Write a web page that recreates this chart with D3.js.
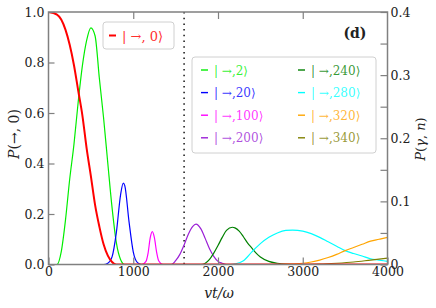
<!DOCTYPE html>
<html>
<head>
<meta charset="utf-8">
<script src="https://cdn.jsdelivr.net/npm/d3@7"></script>
<style>
  body { margin: 0; background: #fff; }
  text { font-family: "DejaVu Serif", serif; }
</style>
</head>
<body>
<div id="chart"></div>
<script>
// |->,0> on the left axis
var tRed = [0, 100, 150, 200, 250, 300, 350, 400, 450, 500, 550, 600, 650, 700, 750, 800, 4000];
var pRed = [1.0, 0.99, 0.97, 0.93, 0.87, 0.79, 0.69, 0.59, 0.46, 0.35, 0.235, 0.15, 0.08, 0.035, 0.01, 0, 0];

// the rest on the right axis
var t2 = [0, 100, 150, 200, 250, 300, 350, 400, 450, 500, 550, 600, 650, 700, 750, 800, 850, 900, 4000];
var p2 = [0, 0, 0.02, 0.07, 0.135, 0.19, 0.257, 0.315, 0.355, 0.375, 0.362, 0.295, 0.232, 0.16, 0.09, 0.035, 0.008, 0, 0];

var t20 = [0, 650, 700, 750, 800, 850, 882, 900, 950, 1000, 1050, 1100, 4000];
var p20 = [0, 0, 0.002, 0.012, 0.05, 0.11, 0.129, 0.125, 0.068, 0.02, 0.003, 0, 0];

var t100 = [0, 1100, 1150, 1175, 1200, 1225, 1250, 1275, 1300, 1350, 4000];
var p100 = [0, 0, 0.005, 0.018, 0.042, 0.052, 0.042, 0.02, 0.006, 0, 0];

var t200 = [0, 1450, 1500, 1550, 1600, 1650, 1700, 1740, 1800, 1850, 1900, 1950, 2000, 2050, 2100, 4000];
var p200 = [0, 0, 0.006, 0.016, 0.031, 0.048, 0.06, 0.064, 0.056, 0.041, 0.025, 0.013, 0.005, 0.002, 0, 0];

var t240 = [0, 1800, 1850, 1900, 1950, 2000, 2050, 2100, 2170, 2200, 2250, 2300, 2350, 2400, 2450, 2500, 2600, 2700, 2800, 2900, 4000];
var p240 = [0, 0, 0.002, 0.008, 0.018, 0.03, 0.043, 0.054, 0.059, 0.058, 0.053, 0.044, 0.034, 0.026, 0.018, 0.012, 0.005, 0.002, 0.0005, 0, 0];

var t280 = [0, 2150, 2200, 2300, 2400, 2500, 2600, 2700, 2800, 2880, 3000, 3100, 3200, 3300, 3400, 3500, 3600, 3700, 3800, 3900, 4000];
var p280 = [0, 0, 0.001, 0.006, 0.02, 0.033, 0.043, 0.05, 0.054, 0.0545, 0.053, 0.049, 0.043, 0.036, 0.029, 0.022, 0.0175, 0.0135, 0.009, 0.007, 0.005];

var t320 = [0, 2700, 2800, 2900, 3000, 3100, 3200, 3300, 3400, 3500, 3600, 3700, 3800, 3900, 4000];
var p320 = [0, 0, 0.0005, 0.001, 0.002, 0.004, 0.007, 0.011, 0.016, 0.022, 0.027, 0.032, 0.037, 0.04, 0.043];

var t340 = [0, 3000, 3200, 3400, 3600, 3800, 4000];
var p340 = [0, 0, 0.0005, 0.002, 0.004, 0.007, 0.010];

var xTicks = [0, 1000, 2000, 3000, 4000];
var yLeftTicks = [0, 0.2, 0.4, 0.6, 0.8, 1.0];
var yRightTicks = [0, 0.1, 0.2, 0.3, 0.4];
var yRightMinor = [0.05, 0.15, 0.25, 0.35];
var dottedAt = 1600;

var series = [
  {name: "2", t: t2, p: p2, color: "#00ee00"},
  {name: "20", t: t20, p: p20, color: "#0000ff"},
  {name: "100", t: t100, p: p100, color: "#ff00ff"},
  {name: "200", t: t200, p: p200, color: "#9b1fd6"},
  {name: "240", t: t240, p: p240, color: "#008000"},
  {name: "280", t: t280, p: p280, color: "#00ffff"},
  {name: "320", t: t320, p: p320, color: "#ffa500"},
  {name: "340", t: t340, p: p340, color: "#808000"}
];

var W = 436, H = 308;
var margin = {top: 12, right: 48.5, bottom: 43.5, left: 48.5},
    width = W - margin.left - margin.right,
    height = H - margin.top - margin.bottom;

var svg = d3.select("#chart")
  .append("svg")
    .attr("width", W)
    .attr("height", H)
  .append("g")
    .attr("transform", "translate(" + margin.left + "," + margin.top + ")");

var x = d3.scaleLinear().domain([0, 4000]).range([0, width]);
var yL = d3.scaleLinear().domain([0, 1]).range([height, 0]);
var yR = d3.scaleLinear().domain([0, 0.4]).range([height, 0]);

var axisColor = "#808080";
var serif = "'DejaVu Serif', serif";

svg.append("defs").append("clipPath").attr("id", "clip")
  .append("rect").attr("width", width).attr("height", height);

var plot = svg.append("g").attr("clip-path", "url(#clip)");

// dotted vertical line
plot.append("line")
  .attr("x1", x(dottedAt)).attr("x2", x(dottedAt))
  .attr("y1", 0).attr("y2", height)
  .attr("stroke", "#222").attr("stroke-width", 1.6)
  .attr("stroke-dasharray", "1.5,4.2");

var lineR = d3.line().curve(d3.curveMonotoneX)
  .x(function(d) { return x(d[0]); })
  .y(function(d) { return yR(d[1]); });

series.forEach(function(s) {
  plot.append("path")
    .datum(d3.zip(s.t, s.p))
    .attr("fill", "none")
    .attr("stroke", s.color)
    .attr("stroke-width", 1.2)
    .attr("d", lineR);
});

var lineL = d3.line().curve(d3.curveMonotoneX)
  .x(function(d) { return x(d[0]); })
  .y(function(d) { return yL(d[1]); });

plot.append("path")
  .datum(d3.zip(tRed, pRed))
  .attr("fill", "none")
  .attr("stroke", "#ff0000")
  .attr("stroke-width", 2)
  .attr("d", lineL);

// axes, ticks pointing inwards
function styleAxis(g) {
  g.attr("font-family", null);
  g.select(".domain").remove();
  g.selectAll(".tick line").attr("stroke", axisColor).attr("stroke-width", 1.2);
  g.selectAll("text").attr("fill", "#222").style("font-size", "12.5px")
    .style("font-family", serif);
}

svg.append("g")
  .attr("transform", "translate(0," + height + ")")
  .call(d3.axisBottom(x).tickValues(xTicks).tickSizeInner(-7).tickPadding(3)
    .tickFormat(d3.format("d")))
  .call(styleAxis);

svg.append("g")
  .call(d3.axisTop(x).tickValues([1000, 2000, 3000]).tickSizeInner(-7).tickFormat(""))
  .call(styleAxis);

svg.append("g")
  .call(d3.axisLeft(yL).tickValues(yLeftTicks).tickSizeInner(-6).tickPadding(4)
    .tickFormat(d3.format(".1f")))
  .call(styleAxis);

svg.append("g")
  .attr("transform", "translate(" + width + ",0)")
  .call(d3.axisRight(yR).tickValues(yRightTicks).tickSizeInner(-7).tickPadding(3)
    .tickFormat(function(d) { return d === 0 ? "0" : d3.format(".1f")(d); }))
  .call(styleAxis);

svg.append("g")
  .attr("transform", "translate(" + width + ",0)")
  .call(d3.axisRight(yR).tickValues(yRightMinor).tickSizeInner(-7).tickFormat(""))
  .call(styleAxis);

// frame
svg.append("rect")
  .attr("width", width).attr("height", height)
  .attr("fill", "none").attr("stroke", axisColor).attr("stroke-width", 1.5);

// axis titles
svg.append("text")
  .attr("x", width / 2 + 1).attr("y", height + 33)
  .attr("text-anchor", "middle")
  .style("font-size", "14px").style("font-style", "italic")
  .attr("fill", "#222")
  .text("vt/ω");

svg.append("text")
  .attr("transform", "rotate(-90)")
  .attr("x", -(134 - margin.top)).attr("y", -margin.left + 19)
  .attr("text-anchor", "middle")
  .style("font-size", "14px")
  .attr("fill", "#222")
  .html("<tspan font-style='italic'>P</tspan>(→, 0)");

svg.append("text")
  .attr("transform", "rotate(-90)")
  .attr("x", -(139 - margin.top)).attr("y", width + 37)
  .attr("text-anchor", "middle")
  .style("font-size", "13px")
  .attr("fill", "#222")
  .html("<tspan font-style='italic'>P</tspan>(<tspan font-style='italic'>γ</tspan>, <tspan font-style='italic'>n</tspan>)");

// (d) label
svg.append("text")
  .attr("x", 318).attr("y", 26)
  .attr("text-anchor", "end")
  .style("font-size", "14px").style("font-weight", "bold")
  .attr("fill", "#222")
  .text("(d)");

// left legend
var lg1 = svg.append("g").attr("transform", "translate(" + (103 - margin.left) + "," + (22 - margin.top) + ")");
lg1.append("rect").attr("width", 71).attr("height", 27).attr("rx", 3)
  .attr("fill", "#fff").attr("fill-opacity", 0.85)
  .attr("stroke", "#d0d0d0");
lg1.append("line").attr("x1", 6).attr("x2", 13).attr("y1", 13.5).attr("y2", 13.5)
  .attr("stroke", "#ff0000").attr("stroke-width", 2);
lg1.append("text").attr("x", 19).attr("y", 18.5)
  .style("font-size", "13px").attr("fill", "#ff3030")
  .text("| →, 0⟩");

// right legend
var lg2 = svg.append("g").attr("transform", "translate(" + (192 - margin.left) + "," + (57 - margin.top) + ")");
lg2.append("rect").attr("width", 184).attr("height", 96).attr("rx", 3)
  .attr("fill", "#fff").attr("fill-opacity", 0.85)
  .attr("stroke", "#d0d0d0");
series.forEach(function(s, i) {
  var col = Math.floor(i / 4), row = i % 4;
  var gx = col === 0 ? 9 : 106, gy = 13 + row * 22.6;
  lg2.append("line").attr("x1", gx).attr("x2", gx + 7).attr("y1", gy).attr("y2", gy)
    .attr("stroke", s.color).attr("stroke-width", 1.4);
  lg2.append("text").attr("x", gx + 13).attr("y", gy + 4.5)
    .style("font-size", "12px").attr("fill", s.color).attr("fill-opacity", 0.8)
    .text("| →," + s.name + "⟩");
});
</script>
</body>
</html>
